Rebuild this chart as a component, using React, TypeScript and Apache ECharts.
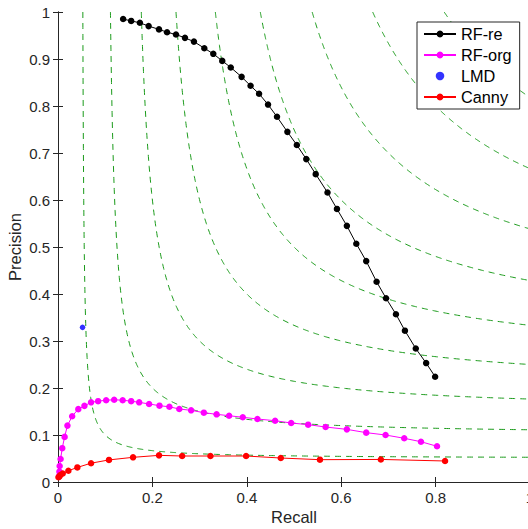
import React, { useEffect, useRef } from "react";
import * as echarts from "echarts";

// ---- data ----
const rfReRecall = [0.138, 0.155, 0.1735, 0.192, 0.214, 0.231, 0.250, 0.269, 0.288, 0.310, 0.329, 0.348, 0.366, 0.389, 0.408, 0.426, 0.445, 0.464, 0.486, 0.506, 0.526, 0.546, 0.571, 0.591, 0.612, 0.632, 0.653, 0.675, 0.695, 0.716, 0.735, 0.758, 0.780, 0.799];
const rfRePrecision = [0.985, 0.981, 0.977, 0.970, 0.963, 0.957, 0.952, 0.945, 0.937, 0.923, 0.911, 0.896, 0.882, 0.862, 0.843, 0.826, 0.803, 0.777, 0.745, 0.717, 0.687, 0.655, 0.616, 0.581, 0.545, 0.507, 0.470, 0.426, 0.391, 0.357, 0.322, 0.284, 0.253, 0.224];

const rfOrgRecall = [0.002, 0.003, 0.0035, 0.0055, 0.009, 0.014, 0.020, 0.030, 0.043, 0.056, 0.070, 0.085, 0.102, 0.119, 0.137, 0.155, 0.172, 0.193, 0.215, 0.236, 0.257, 0.282, 0.309, 0.336, 0.3625, 0.3915, 0.4225, 0.460, 0.494, 0.530, 0.567, 0.612, 0.653, 0.694, 0.7335, 0.769, 0.803];
const rfOrgPrecision = [0.012, 0.022, 0.034, 0.049, 0.072, 0.096, 0.120, 0.140, 0.155, 0.162, 0.1695, 0.172, 0.174, 0.175, 0.174, 0.172, 0.1695, 0.166, 0.1624, 0.160, 0.1553, 0.1525, 0.1475, 0.144, 0.141, 0.1377, 0.134, 0.1304, 0.1255, 0.122, 0.117, 0.112, 0.105, 0.100, 0.093, 0.0857, 0.076];

const lmdRecall = [0.052];
const lmdPrecision = [0.329];

const cannyRecall = [0.001, 0.003, 0.005, 0.010, 0.022, 0.041, 0.070, 0.108, 0.159, 0.214, 0.263, 0.323, 0.3985, 0.472, 0.555, 0.684, 0.820];
const cannyPrecision = [0.010, 0.012, 0.015, 0.018, 0.024, 0.031, 0.040, 0.047, 0.0525, 0.0567, 0.0553, 0.0553, 0.0553, 0.051, 0.0475, 0.048, 0.0447];

// iso-F reference contours
const fLevels = [0.1, 0.2, 0.3, 0.4, 0.5, 0.6, 0.7, 0.8, 0.9];

const xTicks = [0, 0.2, 0.4, 0.6, 0.8, 1];
const yTicks = [0, 0.1, 0.2, 0.3, 0.4, 0.5, 0.6, 0.7, 0.8, 0.9, 1];

const zip = (a: number[], b: number[]) => a.map((v, i) => [v, b[i]]);

function isoF(f: number): number[][] {
  const rMin = f / (2 - f);
  const pts: number[][] = [];
  const N = 400;
  for (let i = 0; i <= N; i++) {
    const t = i / N;
    const r = rMin + (1 - rMin) * t * t;
    const p = (f * r) / (2 * r - f);
    pts.push([r, Math.min(p, 1)]);
  }
  return pts;
}

const FONT = "'Liberation Sans', Arial, Helvetica, sans-serif";
const AX = "#262626";

export default function App() {
  const ref = useRef<HTMLDivElement>(null);
  useEffect(() => {
    if (!ref.current) return;
    const chart = echarts.init(ref.current, undefined, { renderer: "svg" });
    const greenSeries = fLevels.map((f) => ({
      name: "F" + f,
      type: "line",
      data: isoF(f),
      showSymbol: false,
      symbol: "none",
      silent: true,
      z: 1,
      lineStyle: { color: "#1a9a1a", width: 1, type: [6, 5] },
    }));
    const dataSeries = [
      {
        name: "RF-re",
        type: "line",
        data: zip(rfReRecall, rfRePrecision),
        symbol: "circle",
        symbolSize: 6.5,
        z: 5,
        lineStyle: { color: "#000000", width: 1 },
        itemStyle: { color: "#000000" },
      },
      {
        name: "RF-org",
        type: "line",
        data: zip(rfOrgRecall, rfOrgPrecision),
        symbol: "circle",
        symbolSize: 6.5,
        z: 5,
        lineStyle: { color: "#ff00ff", width: 1 },
        itemStyle: { color: "#ff00ff" },
      },
      {
        name: "LMD",
        type: "scatter",
        data: zip(lmdRecall, lmdPrecision),
        symbol: "circle",
        symbolSize: 5.5,
        z: 5,
        itemStyle: { color: "#0000ff" },
      },
      {
        name: "Canny",
        type: "line",
        data: zip(cannyRecall, cannyPrecision),
        symbol: "circle",
        symbolSize: 6.5,
        z: 5,
        lineStyle: { color: "#ff0000", width: 1 },
        itemStyle: { color: "#ff0000" },
      },
    ];
    const labelStyle = { color: AX, fontSize: 15, fontFamily: FONT, margin: 8 };
    chart.setOption({
      animation: false,
      backgroundColor: "#ffffff",
      grid: { left: 58, right: -2, top: 12, bottom: 47, containLabel: false, outerBoundsMode: "none" },
      legend: {
        data: ["RF-re", "RF-org", "LMD", "Canny"],
        orient: "vertical",
        left: 417,
        top: 22,
        backgroundColor: "#ffffff",
        borderColor: AX,
        borderWidth: 1,
        borderRadius: 0,
        padding: [4, 8, 4, 6],
        itemGap: 5,
        itemWidth: 32,
        itemHeight: 8.5,
        textStyle: { fontSize: 16.3, color: "#000", fontFamily: FONT, lineHeight: 16 },
        z: 10,
      },
      xAxis: [
        {
          type: "value",
          min: xTicks[0],
          max: xTicks[xTicks.length - 1],
          interval: 0.2,
          name: "Recall",
          nameLocation: "middle",
          nameGap: 26,
          nameMoveOverlap: false,
          nameTextStyle: { color: AX, fontSize: 16.5, fontFamily: FONT },
          axisLine: { show: true, lineStyle: { color: AX, width: 1 } },
          axisTick: { show: true, inside: true, length: 5, lineStyle: { color: AX } },
          axisLabel: { ...labelStyle, formatter: (v: number) => String(Number(v.toFixed(2))) },
          splitLine: { show: false },
        },
        {
          type: "value",
          position: "top",
          min: xTicks[0],
          max: xTicks[xTicks.length - 1],
          interval: 0.2,
          axisLine: { show: true, lineStyle: { color: AX, width: 1 } },
          axisTick: { show: true, inside: true, length: 5, lineStyle: { color: AX } },
          axisLabel: { show: false },
          splitLine: { show: false },
        },
      ],
      yAxis: [
        {
          type: "value",
          min: yTicks[0],
          max: yTicks[yTicks.length - 1],
          interval: 0.1,
          name: "Precision",
          nameLocation: "middle",
          nameGap: 35,
          nameMoveOverlap: false,
          nameTextStyle: { color: AX, fontSize: 16.5, fontFamily: FONT },
          axisLine: { show: true, lineStyle: { color: AX, width: 1 } },
          axisTick: { show: true, inside: true, length: 5, lineStyle: { color: AX } },
          axisLabel: { ...labelStyle, formatter: (v: number) => String(Number(v.toFixed(2))) },
          splitLine: { show: false },
        },
        {
          type: "value",
          position: "right",
          min: yTicks[0],
          max: yTicks[yTicks.length - 1],
          interval: 0.1,
          axisLine: { show: true, lineStyle: { color: AX, width: 1 } },
          axisTick: { show: true, inside: true, length: 5, lineStyle: { color: AX } },
          axisLabel: { show: false },
          splitLine: { show: false },
        },
      ],
      series: [...greenSeries, ...dataSeries],
    });
    return () => chart.dispose();
  }, []);
  return (
    <div
      ref={ref}
      style={{ position: "fixed", left: 0, top: 0, width: 528, height: 529, background: "#fff" }}
    />
  );
}
